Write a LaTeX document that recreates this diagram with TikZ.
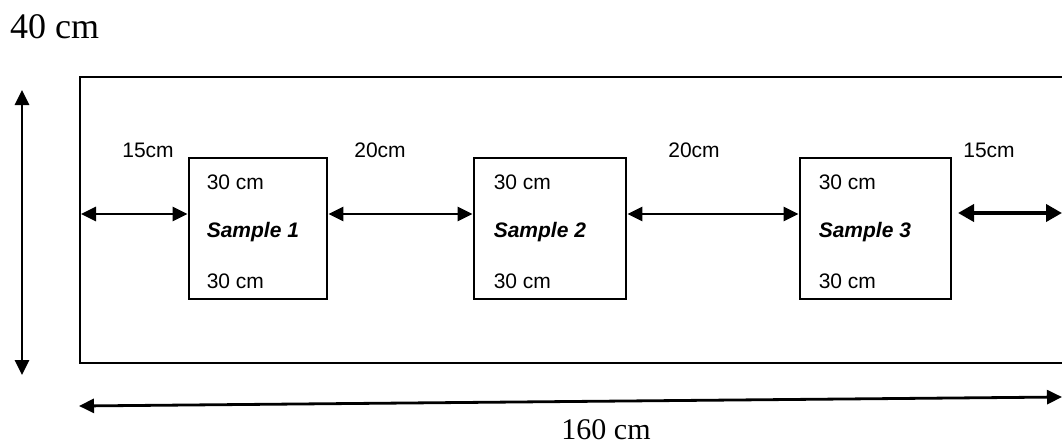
\documentclass[tikz,border=0pt]{standalone}
\usepackage{fontspec}
\setmainfont{Liberation Serif}
\setsansfont{Liberation Sans}
\usetikzlibrary{arrows.meta}
\tikzset{
  dim/.style={line width=2.8pt, {Triangle[length=15pt,width=14pt]}-{Triangle[length=15pt,width=14pt]}},
  dimthick/.style={line width=3.8pt, {Triangle[length=16pt,width=17pt]}-{Triangle[length=16pt,width=17pt]}},
  frame/.style={line width=2.8pt},
  samplebox/.style={draw, line width=2.8pt, inner sep=0pt, minimum height=141pt},
  lab/.style={font=\sffamily\fontsize{21}{21}\selectfont, inner sep=0pt},
  slab/.style={font=\sffamily\bfseries\itshape\fontsize{21}{21}\selectfont, inner sep=0pt, anchor=base west},
  ilab/.style={font=\sffamily\fontsize{21}{21}\selectfont, inner sep=0pt, anchor=base west},
}
\begin{document}
\begin{tikzpicture}[x=1pt,y=-1pt]
\useasboundingbox (0,0) rectangle (1062,444);
% outer frame (right side beyond the picture)
\coordinate (ftr) at (1062,77);
\coordinate (ftl) at (80,77);
\coordinate (fbl) at (80,363);
\coordinate (fbr) at (1062,363);
\draw[frame] (ftr) -- (ftl) -- (fbl) -- (fbr);
% sample boxes
\node[samplebox, minimum width=138pt] (s1) at (258,228.5) {};
\node[samplebox, minimum width=152pt] (s2) at (550,228.5) {};
\node[samplebox, minimum width=151pt] (s3) at (875.5,228.5) {};
% texts in boxes
\node[ilab] (s1t) at ([xshift=19pt]s1.west |- 0,189) {30 cm};
\node[slab] (s1n) at ([xshift=19pt]s1.west |- 0,237) {Sample 1};
\node[ilab] (s1b) at ([xshift=19pt]s1.west |- 0,288) {30 cm};
\node[ilab] (s2t) at ([xshift=21pt]s2.west |- 0,189) {30 cm};
\node[slab] (s2n) at ([xshift=21pt]s2.west |- 0,237) {Sample 2};
\node[ilab] (s2b) at ([xshift=21pt]s2.west |- 0,288) {30 cm};
\node[ilab] (s3t) at ([xshift=20pt]s3.west |- 0,189) {30 cm};
\node[slab] (s3n) at ([xshift=20pt]s3.west |- 0,237) {Sample 3};
\node[ilab] (s3b) at ([xshift=20pt]s3.west |- 0,288) {30 cm};
% horizontal spacing arrows
\coordinate (ay) at (0,214);
\coordinate (al) at (81,214);
\coordinate (r1) at (958,213);
\coordinate (r2) at (1062,213);
\draw[dim] (al) -- (s1.west |- ay);
\draw[dim] (s1.east |- ay) -- (s2.west |- ay);
\draw[dim] (s2.east |- ay) -- (s3.west |- ay);
\draw[dimthick] (r1) -- (r2);
% spacing labels
\node[lab, anchor=base] (l1) at (148,157) {15cm};
\node[lab, anchor=base] (l2) at (380,157) {20cm};
\node[lab, anchor=base] (l3) at (694,157) {20cm};
\node[lab, anchor=base] (l4) at (989,157) {15cm};
% height arrow
\coordinate (vt) at (22,90);
\coordinate (vb) at (22,375);
\draw[dim] (vt) -- (vb);
\node[font=\fontsize{36}{36}\selectfont, inner sep=0pt, anchor=base west] (h) at (10,38) {40 cm};
% length arrow
\coordinate (bl) at (79,406);
\coordinate (br) at (1062,397);
\draw[dim] (bl) -- (br);
\node[font=\fontsize{30}{30}\selectfont, inner sep=0pt, anchor=base] (w) at (606,439) {160 cm};
\end{tikzpicture}
\end{document}
